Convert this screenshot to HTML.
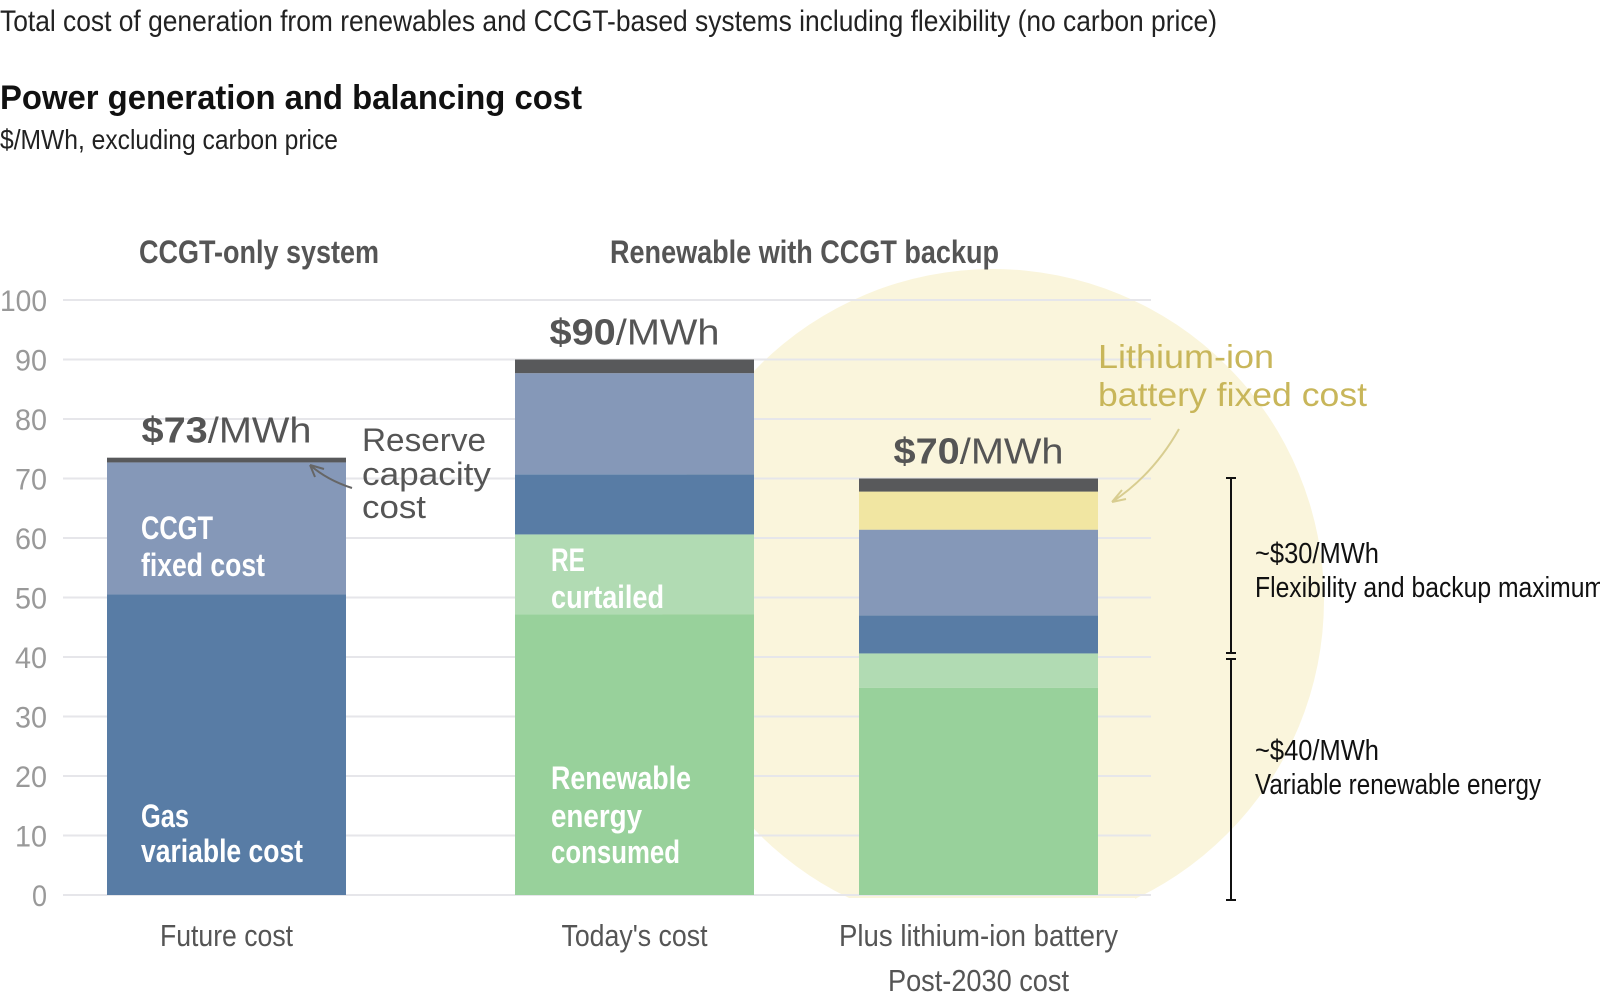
<!DOCTYPE html>
<html><head><meta charset="utf-8"><style>
html,body{margin:0;padding:0;background:#fff;width:1600px;height:999px;overflow:hidden}
svg{display:block;font-family:"Liberation Sans",sans-serif}
</style></head><body>
<svg id="chart" width="1600" height="999" viewBox="0 0 1600 999">
<text x="0" y="31" font-size="30" fill="#222" textLength="1217" lengthAdjust="spacingAndGlyphs">Total cost of generation from renewables and CCGT-based systems including flexibility (no carbon price)</text>
<text x="0" y="109" font-size="34" font-weight="bold" fill="#111" textLength="582" lengthAdjust="spacingAndGlyphs">Power generation and balancing cost</text>
<text x="0" y="149" font-size="28" fill="#222" textLength="338" lengthAdjust="spacingAndGlyphs">$/MWh, excluding carbon price</text>
<circle cx="993" cy="600" r="331" fill="#faf5dc"/>
<rect x="0" y="898" width="1135" height="101" fill="#fff"/>
<g id="grid"></g>
<g id="yticks"></g>
<g id="bars"></g>
<text x="139" y="263" font-size="32" font-weight="bold" fill="#555" textLength="240" lengthAdjust="spacingAndGlyphs">CCGT-only system</text>
<text x="610" y="263" font-size="32" font-weight="bold" fill="#555" textLength="389" lengthAdjust="spacingAndGlyphs">Renewable with CCGT backup</text>
<g id="xlabels"></g>
<g fill="#555" font-size="32">
<text x="362" y="451" textLength="124" lengthAdjust="spacingAndGlyphs">Reserve</text><text x="362" y="485" textLength="129" lengthAdjust="spacingAndGlyphs">capacity</text><text x="362" y="518" textLength="64" lengthAdjust="spacingAndGlyphs">cost</text></g>
<path d="M352,488 Q327,480 310,465 M310,465 L324,469 M310,465 L315,477" stroke="#666" stroke-width="2" fill="none"/>
<g fill="#c8b65a" font-size="33">
<text x="1098" y="368" textLength="176" lengthAdjust="spacingAndGlyphs">Lithium-ion</text><text x="1098" y="406" textLength="269" lengthAdjust="spacingAndGlyphs">battery fixed cost</text></g>
<path d="M1179,429 Q1153,475 1112,502 M1112,502 L1122,490 M1112,502 L1126,499" stroke="#d8cd90" stroke-width="2" fill="none"/>
<g fill="#fff" font-size="32" font-weight="bold">
<text x="141" y="539" textLength="72" lengthAdjust="spacingAndGlyphs">CCGT</text><text x="141" y="576" textLength="124" lengthAdjust="spacingAndGlyphs">fixed cost</text>
<text x="141" y="827" textLength="48" lengthAdjust="spacingAndGlyphs">Gas</text><text x="141" y="862" textLength="162" lengthAdjust="spacingAndGlyphs">variable cost</text>
<text x="551" y="571" textLength="34" lengthAdjust="spacingAndGlyphs">RE</text><text x="551" y="608" textLength="113" lengthAdjust="spacingAndGlyphs">curtailed</text>
<text x="551" y="789" textLength="140" lengthAdjust="spacingAndGlyphs">Renewable</text><text x="551" y="827" textLength="91" lengthAdjust="spacingAndGlyphs">energy</text><text x="551" y="863" textLength="129" lengthAdjust="spacingAndGlyphs">consumed</text>
</g>
<g stroke="#111" stroke-width="2">
<line x1="1231" y1="478" x2="1231" y2="653"/><line x1="1226" y1="478" x2="1236" y2="478"/><line x1="1226" y1="653" x2="1236" y2="653"/>
<line x1="1231" y1="659" x2="1231" y2="900"/><line x1="1226" y1="659" x2="1236" y2="659"/><line x1="1226" y1="900" x2="1236" y2="900"/>
</g>
<g fill="#111" font-size="29">
<text x="1255" y="563" textLength="124" lengthAdjust="spacingAndGlyphs">~$30/MWh</text><text x="1255" y="597" textLength="350" lengthAdjust="spacingAndGlyphs">Flexibility and backup maximum</text>
<text x="1255" y="760" textLength="124" lengthAdjust="spacingAndGlyphs">~$40/MWh</text><text x="1255" y="794" textLength="286" lengthAdjust="spacingAndGlyphs">Variable renewable energy</text>
</g>
</svg>
<script>
const categories=["Future cost","Today's cost","Plus lithium-ion battery"];
const totals=["$73","$90","$70"];
const renewConsumed=[0,47.2,34.8];
const reCurtailed=[0,13.4,5.8];
const gasVariable=[50.5,10.1,6.4];
const ccgtFixed=[22.2,17.0,14.4];
const batteryFixed=[0,0,6.4];
const reserveCost=[0.8,2.3,2.2];
const yTicks=[0,10,20,30,40,50,60,70,80,90,100];
const NS="http://www.w3.org/2000/svg";
const y0=895,y100=300;
const Y=v=>y0-(y0-y100)*v/100;
const barX=[107,515,859],barW=239;
const X=i=>barX[i];
const xLabelW=[133,146,279];
function mk(tag,attrs,parent){const e=document.createElementNS(NS,tag);for(const k in attrs)e.setAttribute(k,attrs[k]);parent.appendChild(e);return e;}
const grid=document.getElementById('grid'),yt=document.getElementById('yticks');
yTicks.forEach(t=>{
 const l=mk('line',{x1:63,x2:1151,y1:Y(t),y2:Y(t),stroke:'#e6e6ea','stroke-width':2},grid);
 
 
 const tx=mk('text',{x:47,y:Y(t)+11,'text-anchor':'end','font-size':30,fill:'#999',textLength:t>=100?47:(t>=10?32:15),lengthAdjust:'spacingAndGlyphs'},yt);
 tx.textContent=t;
 
 
});
const series=[[renewConsumed,'#98d19b','renewable-consumed'],[reCurtailed,'#b1dbb3','re-curtailed'],[gasVariable,'#587ca5','gas-variable'],[ccgtFixed,'#8598b8','ccgt-fixed'],[batteryFixed,'#f1e6a2','battery-fixed'],[reserveCost,'#58595b','reserve-cost']];
const bars=document.getElementById('bars');
categories.forEach((c,i)=>{
 let acc=0;
 series.forEach(([arr,col,nm])=>{
  const v=arr[i]; if(v<=0)return;
  const r=mk('rect',{x:X(i),y:Y(acc+v),width:barW,height:Y(acc)-Y(acc+v),fill:col},bars);
  
  
  acc+=v;
 });
 const lab=mk('text',{x:X(i)+barW/2-85,y:Y(acc)-15,'font-size':36,fill:'#555',textLength:170,lengthAdjust:'spacingAndGlyphs'},bars);
 lab.innerHTML='<tspan font-weight="bold">'+totals[i]+'</tspan>/MWh';
 
 
});
const xl=document.getElementById('xlabels');
categories.forEach((c,i)=>{
 const t=mk('text',{x:X(i)+barW/2,y:946,'text-anchor':'middle','font-size':31,fill:'#555',textLength:xLabelW[i],lengthAdjust:'spacingAndGlyphs'},xl);
 t.textContent=c;
 
 
});
const t2=mk('text',{x:X(2)+barW/2,y:991,'text-anchor':'middle','font-size':31,fill:'#555',textLength:181,lengthAdjust:'spacingAndGlyphs'},xl);
t2.textContent='Post-2030 cost';


</script>
</body></html>
